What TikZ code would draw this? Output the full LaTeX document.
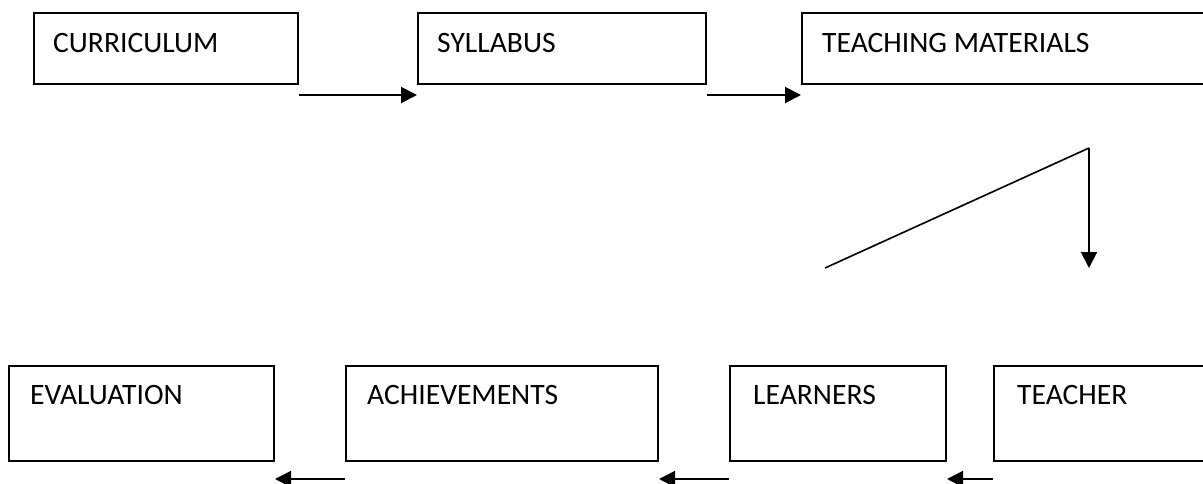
\documentclass[tikz,border=0pt]{standalone}
\usepackage{fontspec}
\setmainfont{Carlito}
\usetikzlibrary{arrows.meta,calc}
\begin{document}
\begin{tikzpicture}[x=1pt,y=-1pt,
  box/.style={draw,line width=2pt,anchor=north west,inner sep=0pt},
  lbl/.style={anchor=base west,inner sep=0pt,font=\fontsize{29.6}{35}\selectfont},
  conn/.style={line width=2pt,-{Triangle[length=16pt,width=16pt]}},
  plain/.style={line width=1.6pt}]
\clip (0,0) rectangle (1203,483);
\fill[white] (0,0) rectangle (1203,483);
% top row
\node[box,minimum width=264pt,minimum height=71pt] (cur) at (33,12) {};
\node[lbl] (curt) at ($(cur.north west)+(20,40)$) {CURRICULUM};
\node[box,minimum width=288pt,minimum height=71pt] (syl) at (417,12) {};
\node[lbl] (sylt) at ($(syl.north west)+(20,40)$) {SYLLABUS};
\node[box,minimum width=420pt,minimum height=71pt] (tm) at (801,12) {};
\node[lbl] (tmt) at ($(tm.north west)+(21,40)$) {TEACHING MATERIALS};
% bottom row
\node[box,minimum width=265pt,minimum height=95pt] (ev) at (8,365) {};
\node[lbl] (evt) at ($(ev.north west)+(22,39)$) {EVALUATION};
\node[box,minimum width=312pt,minimum height=95pt] (ach) at (345,365) {};
\node[lbl] (acht) at ($(ach.north west)+(22,39)$) {ACHIEVEMENTS};
\node[box,minimum width=216pt,minimum height=95pt] (lea) at (729,365) {};
\node[lbl] (leat) at ($(lea.north west)+(24,39)$) {LEARNERS};
\node[box,minimum width=230pt,minimum height=95pt] (tea) at (993,365) {};
\node[lbl] (teat) at ($(tea.north west)+(24,39)$) {TEACHER};
% connectors top
\draw[conn] ($(cur.south east)+(0,10)$) -- ($(syl.south west)+(0,10)$);
\draw[conn] ($(syl.south east)+(0,10)$) -- ($(tm.south west)+(0,10)$);
% bend
\coordinate (dl) at (825,268);
\coordinate (dt) at (1089,148);
\coordinate (db) at (1089,268);
\draw[plain] (dl) -- (dt);
\draw[conn] (dt) -- (db);
% connectors bottom
\draw[conn] ($(ach.south west)+(0,17)$) -- ($(ev.south east)+(0,17)$);
\draw[conn] ($(lea.south west)+(0,17)$) -- ($(ach.south east)+(0,17)$);
\draw[conn] ($(tea.south west)+(0,17)$) -- ($(lea.south east)+(0,17)$);
\end{tikzpicture}
\end{document}
